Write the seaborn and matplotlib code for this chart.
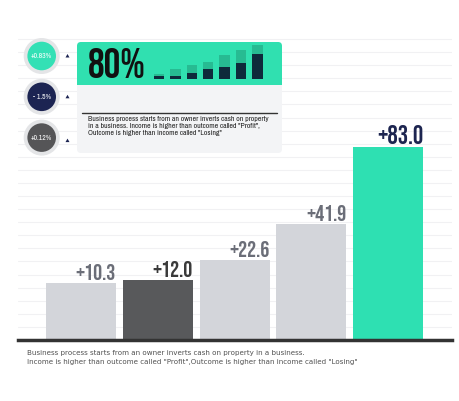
import matplotlib
matplotlib.use("Agg")
import matplotlib.pyplot as plt
import seaborn as sns
import numpy as np
from matplotlib.patches import Circle, FancyBboxPatch, Polygon

# data
categories = ["A", "B", "C", "D", "E"]
values = [10.3, 12.0, 22.6, 41.9, 83.0]
value_labels = ["+10.3", "+12.0", "+22.6", "+41.9", "+83.0"]
bar_colors = ["#d3d5da", "#58595b", "#d3d5da", "#d3d5da", "#2ee0b2"]
label_colors = ["#6b6e78", "#3a3a3a", "#6b6e78", "#6b6e78", "#1d2550"]

mini_total = [5.0, 10.0, 14.0, 17.6, 24.3, 29.3, 34.3]
mini_dark = [3.3, 3.3, 6.0, 10.0, 12.0, 16.6, 25.0]

kpi_text = "80%"
badges = ["+0.83%", "- 1.5%", "+0.12%"]
badge_colors = ["#33e0b5", "#1c2452", "#555557"]

card_note = ("Business process starts from an owner inverts cash on property\n"
             "in a business. Income is higher than outcome called \"Profit\",\n"
             "Outcome is higher than income called \"Losing\"")
footer = ("Business process starts from an owner inverts cash on property in a business.\n"
          "Income is higher than outcome called \"Profit\",Outcome is higher than income called \"Losing\"")

sns.set_theme(style="white")
cond = ["Bebas Neue", "Oswald", "Barlow Condensed", "DejaVu Sans"]
narrow = ["Archivo Narrow", "DejaVu Sans"]

W, H = 460, 401
fig = plt.figure(figsize=(W / 100, H / 100), dpi=100)
fig.patch.set_facecolor("white")

# main bar chart
base = 20.0  # bars start below zero so small values stay visible
ax = fig.add_axes([18 / W, (H - 340) / H, 434 / W, 310 / H])
heights = [v + base for v in values]
sns.barplot(x=categories, y=heights, hue=categories, palette=bar_colors,
            legend=False, width=0.91, bottom=-base, ax=ax, saturation=1, linewidth=0)
ax.set_xlim(-0.818, 4.83)
ax.set_ylim(-base, 145.8)
ax.set_xlabel("")
ax.set_ylabel("")
ax.set_xticks([])
ax.set_yticks(np.arange(-base + 7.0, 146, 7.0))
ax.set_yticklabels([])
ax.tick_params(left=False)
ax.grid(axis="y", color="#f1f1f3", lw=0.8)
ax.set_axisbelow(True)
for s in ["top", "left", "right"]:
    ax.spines[s].set_visible(False)
ax.spines["bottom"].set_color("#333333")
ax.spines["bottom"].set_linewidth(2.5)

for i, (v, lab) in enumerate(zip(values, value_labels)):
    ax.text(i + 0.455, v + 1.8, lab, ha="right", va="bottom",
            fontsize=18.5 if i == 4 else 16.3, fontweight=500,
            family=cond, color=label_colors[i])

# overlay for card and badges
ov = fig.add_axes([0, 0, 1, 1], facecolor="none")
ov.set_xlim(0, W)
ov.set_ylim(H, 0)
ov.axis("off")

ov.add_patch(FancyBboxPatch((77, 42), 205, 111, boxstyle="round,pad=0,rounding_size=4",
                            fc="#f3f4f6", ec="none"))
ov.add_patch(FancyBboxPatch((77, 42), 205, 43, boxstyle="round,pad=0,rounding_size=4",
                            fc="#30e0b0", ec="none"))
ov.add_patch(plt.Rectangle((77, 75), 205, 10, fc="#30e0b0", ec="none"))
ov.plot([82, 277], [112.7, 112.7], color="#333333", lw=1)
ov.text(87.5, 78.5, kpi_text, fontsize=30, fontweight=500, family=cond,
        color="#111111", ha="left", va="baseline")
ov.text(88, 116.5, card_note, fontsize=5.6, fontweight=500, family=narrow, color="#222222",
        ha="left", va="top", linespacing=1.15)

for k, (txt, col) in enumerate(zip(badges, badge_colors)):
    cy = 56 + k * 40.8
    ov.add_patch(Circle((41.7, cy), 18, fc="#e4e5e7", ec="none"))
    ov.add_patch(Circle((41.7, cy), 14.3, fc=col, ec="none"))
    ov.text(41.7, cy, txt, fontsize=5.5, color="white", ha="center", va="center",
            family=narrow)
    ty = cy + (0 if k < 2 else 3)
    ov.add_patch(Polygon([[65.5, ty + 1.5], [69.5, ty + 1.5], [67.5, ty - 2]],
                         closed=True, fc="#1c2452", ec="none"))

ov.text(27, 350.5, footer, fontsize=5.1, color="#505050", ha="left", va="top",
        linespacing=1.55)

# mini bars in the card
mx = fig.add_axes([149.2 / W, (H - 79.3) / H, 118 / W, 36 / H], facecolor="none")
idx = list(range(len(mini_total)))
sns.barplot(x=idx, y=mini_total, color="#27bb92", width=0.63, saturation=1, ax=mx, linewidth=0)
sns.barplot(x=idx, y=mini_dark, color="#0e2a3b", width=0.63, saturation=1, ax=mx, linewidth=0)
mx.set_xlim(-0.6, 6.6)
mx.set_ylim(0, 36)
mx.axis("off")

fig.savefig("out.png", dpi=100, facecolor="white")
